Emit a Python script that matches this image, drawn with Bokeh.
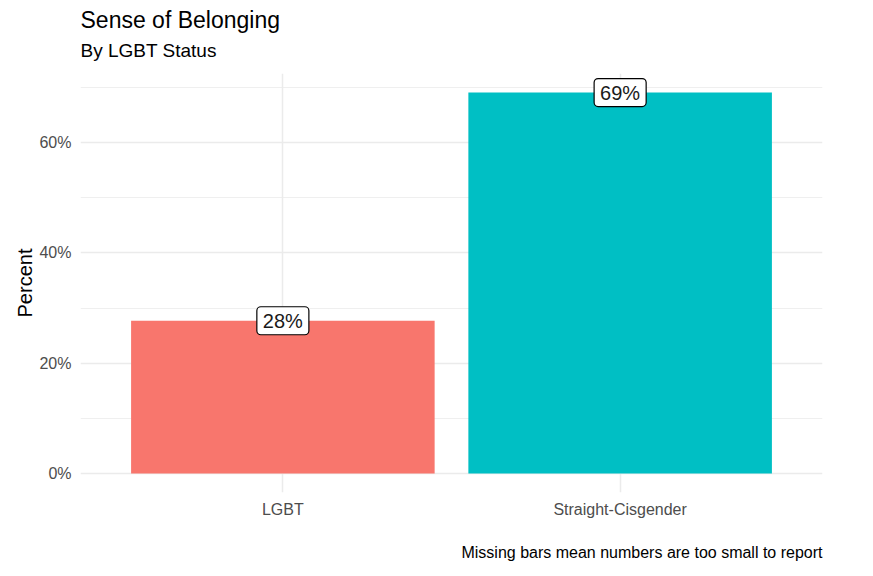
from bokeh.plotting import figure
from bokeh.models import ColumnDataSource, FactorRange, Range1d, FixedTicker, Title, NumeralTickFormatter
from bokeh.core.properties import value
from bokeh.embed import file_html
from bokeh.resources import INLINE

categories = ["LGBT", "Straight-Cisgender"]
percents = [0.277, 0.691]
colors = ["#F8766D", "#00BFC4"]
labels = ["28%", "69%"]
y_ticks = [0.0, 0.2, 0.4, 0.6]
y_minor = [0.1, 0.3, 0.5, 0.7]

FONT = "Liberation Sans"

src = ColumnDataSource(dict(cat=categories, pct=percents, color=colors, label=labels))

ymax = max(percents)
pad = 0.05 * ymax

p = figure(
    x_range=FactorRange(*categories, range_padding=0.1),
    y_range=Range1d(-pad, ymax + pad),
    frame_width=742, frame_height=419,
    output_backend="svg", toolbar_location=None,
    min_border_left=80, min_border_right=35, min_border_top=73, min_border_bottom=10,
)
p.outline_line_color = None
p.background_fill_color = "white"
p.border_fill_color = "white"

p.vbar(x="cat", top="pct", width=0.9, color="color", source=src, line_color=None)

p.text(x="cat", y="pct", text="label", source=src,
       text_align="center", text_baseline="middle",
       text_font=value(FONT), text_font_size="20px", text_color="#1a1a1a",
       background_fill_color="white", border_line_color="black", border_line_width=1.2,
       padding=dict(left=6, right=6, top=3, bottom=3), border_radius=4)

# axes
p.yaxis.ticker = FixedTicker(ticks=y_ticks, minor_ticks=y_minor)
p.yaxis.formatter = NumeralTickFormatter(format="0%")
for ax in (p.xaxis, p.yaxis):
    ax.axis_line_color = None
    ax.major_tick_line_color = None
    ax.minor_tick_line_color = None
    ax.major_tick_in = 0
    ax.major_tick_out = 0
    ax.minor_tick_in = 0
    ax.minor_tick_out = 0
    ax.major_label_text_font = FONT
    ax.major_label_text_font_size = "16px"
    ax.major_label_text_color = "#4D4D4D"
    ax.axis_label_text_font = FONT
    ax.axis_label_text_font_style = "normal"
    ax.axis_label_text_font_size = "20px"
    ax.axis_label_text_color = "black"
p.yaxis.axis_label = "Percent"
p.yaxis.major_label_standoff = 9
p.yaxis.axis_label_standoff = 0
p.xaxis.major_label_standoff = 8

p.ygrid.grid_line_color = "#EBEBEB"
p.ygrid.grid_line_width = 1.5
p.ygrid.minor_grid_line_color = "#EBEBEB"
p.ygrid.minor_grid_line_width = 0.8
p.xgrid.grid_line_color = "#EBEBEB"
p.xgrid.grid_line_width = 1.5

# titles (spacer first, closest to the frame)
p.add_layout(Title(text=" ", align="left", text_font=FONT, text_font_size="1px",
                   text_color="white", standoff=4), "above")
p.add_layout(Title(text="By LGBT Status", align="left", text_font=FONT, text_font_size="19px",
                   text_font_style="normal", text_color="black", standoff=11), "above")
p.add_layout(Title(text="Sense of Belonging", align="left", text_font=FONT, text_font_size="23px",
                   text_font_style="normal", text_color="black", standoff=0), "above")
p.add_layout(Title(text="Missing bars mean numbers are too small to report", align="right",
                   text_font=FONT, text_font_size="16px", text_font_style="normal",
                   text_color="black", standoff=43), "below")

open("out.html", "w").write(file_html(p, INLINE))
